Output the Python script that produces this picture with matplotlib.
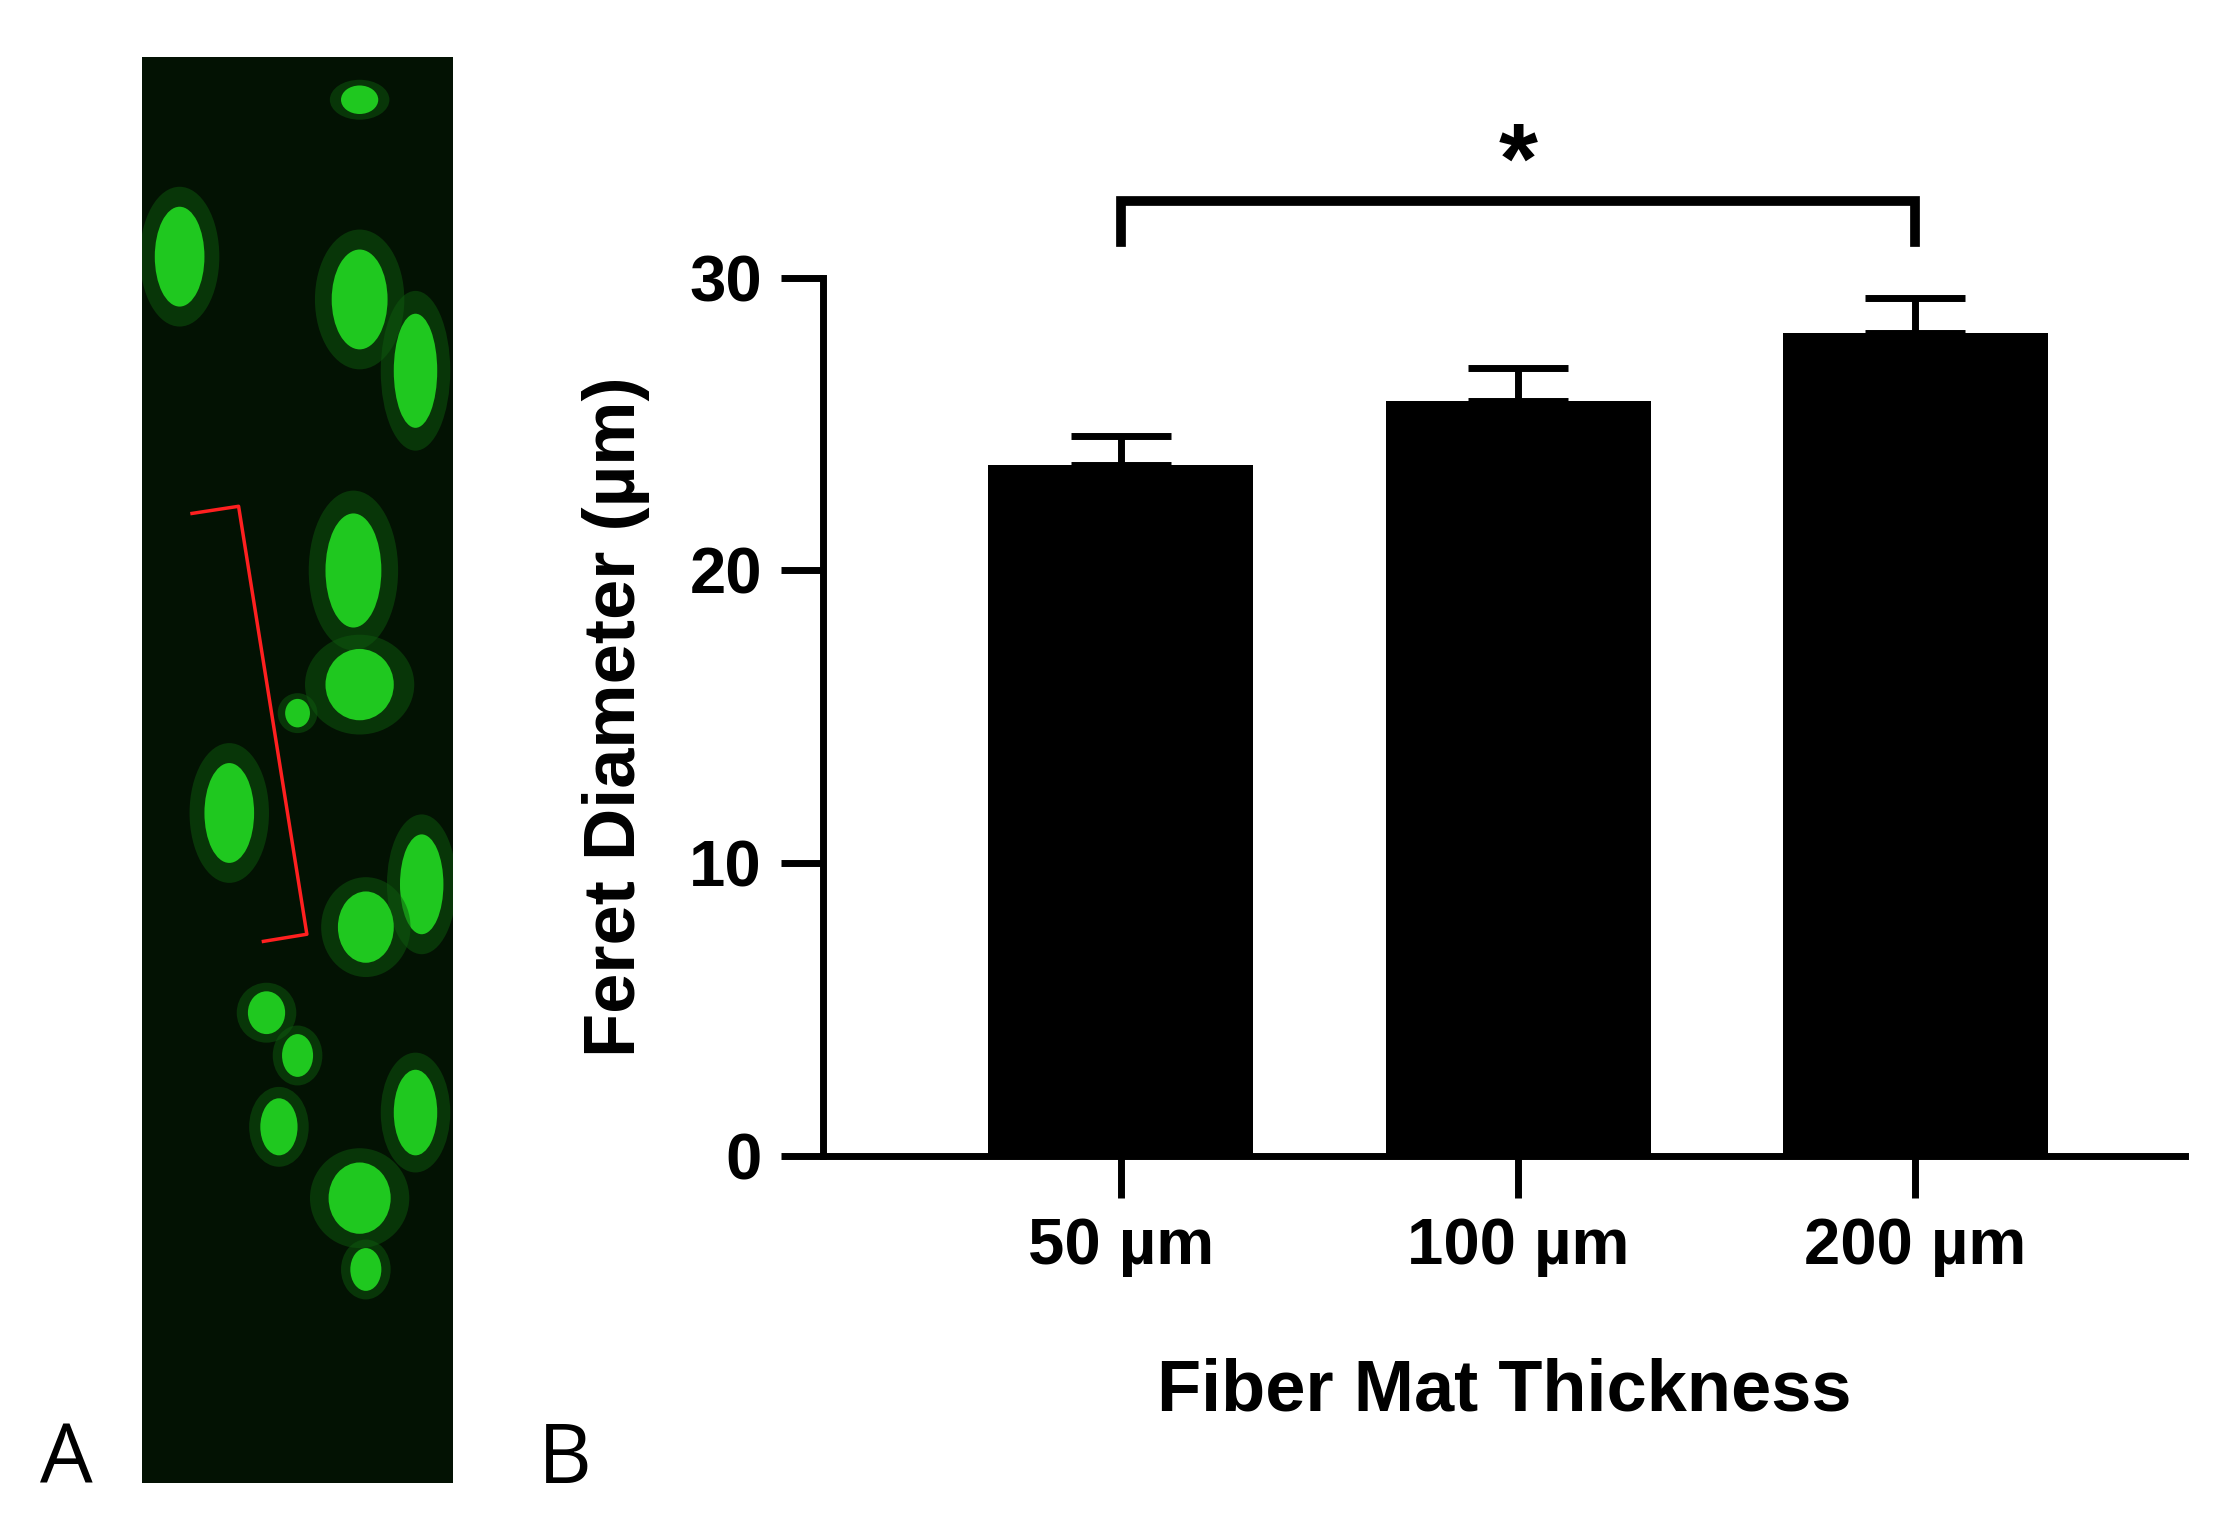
import matplotlib
matplotlib.use("Agg")
import matplotlib.pyplot as plt
from matplotlib.patches import Ellipse

categories = ["50 µm", "100 µm", "200 µm"]
means = [23.6, 25.8, 28.1]
sems = [1.0, 1.1, 1.2]
yticks = [0, 10, 20, 30]

# micrograph cell bodies (x, y, w, h) in image-fraction units
cells_x = [0.12, 0.70, 0.88, 0.68, 0.28, 0.70, 0.90, 0.50, 0.72, 0.44, 0.70, 0.40, 0.88, 0.70, 0.50, 0.72]
cells_y = [0.86, 0.83, 0.78, 0.64, 0.47, 0.56, 0.42, 0.30, 0.39, 0.25, 0.20, 0.33, 0.26, 0.97, 0.54, 0.15]
cells_w = [0.16, 0.18, 0.14, 0.18, 0.16, 0.22, 0.14, 0.10, 0.18, 0.12, 0.20, 0.12, 0.14, 0.12, 0.08, 0.10]
cells_h = [0.07, 0.07, 0.08, 0.08, 0.07, 0.05, 0.07, 0.03, 0.05, 0.04, 0.05, 0.03, 0.06, 0.02, 0.02, 0.03]

plt.rcParams['font.family'] = ['Liberation Sans', 'DejaVu Sans']
fig = plt.figure(figsize=(22.21, 15.29), dpi=100)

# Panel A
axA = fig.add_axes([100/1560, 1-1042/1074, 218/1560, 1002/1074])
axA.set_facecolor("#031203")
axA.set_xlim(0, 1); axA.set_ylim(0, 1)
for x, y, w, h in zip(cells_x, cells_y, cells_w, cells_h):
    axA.add_patch(Ellipse((x, y), w*1.6, h*1.4, color="#0e5a0e", alpha=0.5, lw=0))
    axA.add_patch(Ellipse((x, y), w, h, color="#1fc81f", lw=0))
axA.plot([0.16, 0.31, 0.53, 0.39], [0.68, 0.685, 0.385, 0.38], color="#ff2020", lw=2.5)
axA.set_xticks([]); axA.set_yticks([])
for s in axA.spines.values():
    s.set_visible(False)
fig.text(28/1560, 1-1042/1074, "A", fontsize=60, family="Open Sans")
fig.text(378/1560, 1-1042/1074, "B", fontsize=60, family="Open Sans")

# Panel B
ax = fig.add_axes([578/1560, 1-812/1074, (1535-578)/1560, (812-195)/1074])
x = range(len(categories))
ax.errorbar(x, means, yerr=[[0]*3, sems], fmt="none", ecolor="black",
            elinewidth=5, capsize=36, capthick=5, zorder=1)
ax.bar(x, means, width=0.667, color="black", zorder=2)
ax.set_xlim(-0.75, 2.68)
ax.set_ylim(0, 30)
ax.set_yticks(yticks)
ax.set_xticks(list(x))
ax.set_xticklabels(categories)
for s in ["top", "right"]:
    ax.spines[s].set_visible(False)
for s in ["left", "bottom"]:
    ax.spines[s].set_linewidth(5)
ax.tick_params(axis="both", width=5, length=30, labelsize=47, pad=14)
for lbl in ax.get_xticklabels() + ax.get_yticklabels():
    lbl.set_fontweight("bold")
ax.set_ylabel("Feret Diameter (µm)", fontsize=52, fontweight="bold", labelpad=28)
ax.set_xlabel("Fiber Mat Thickness", fontsize=52, fontweight="bold", labelpad=58)
ax.plot([0, 0, 2, 2], [31.2, 32.6, 32.6, 31.2], color="black", lw=7, clip_on=False,
        solid_joinstyle="miter")
ax.text(1, 32.2, "*", ha="center", va="bottom", fontsize=72, fontweight="bold")

fig.savefig("out.png")
